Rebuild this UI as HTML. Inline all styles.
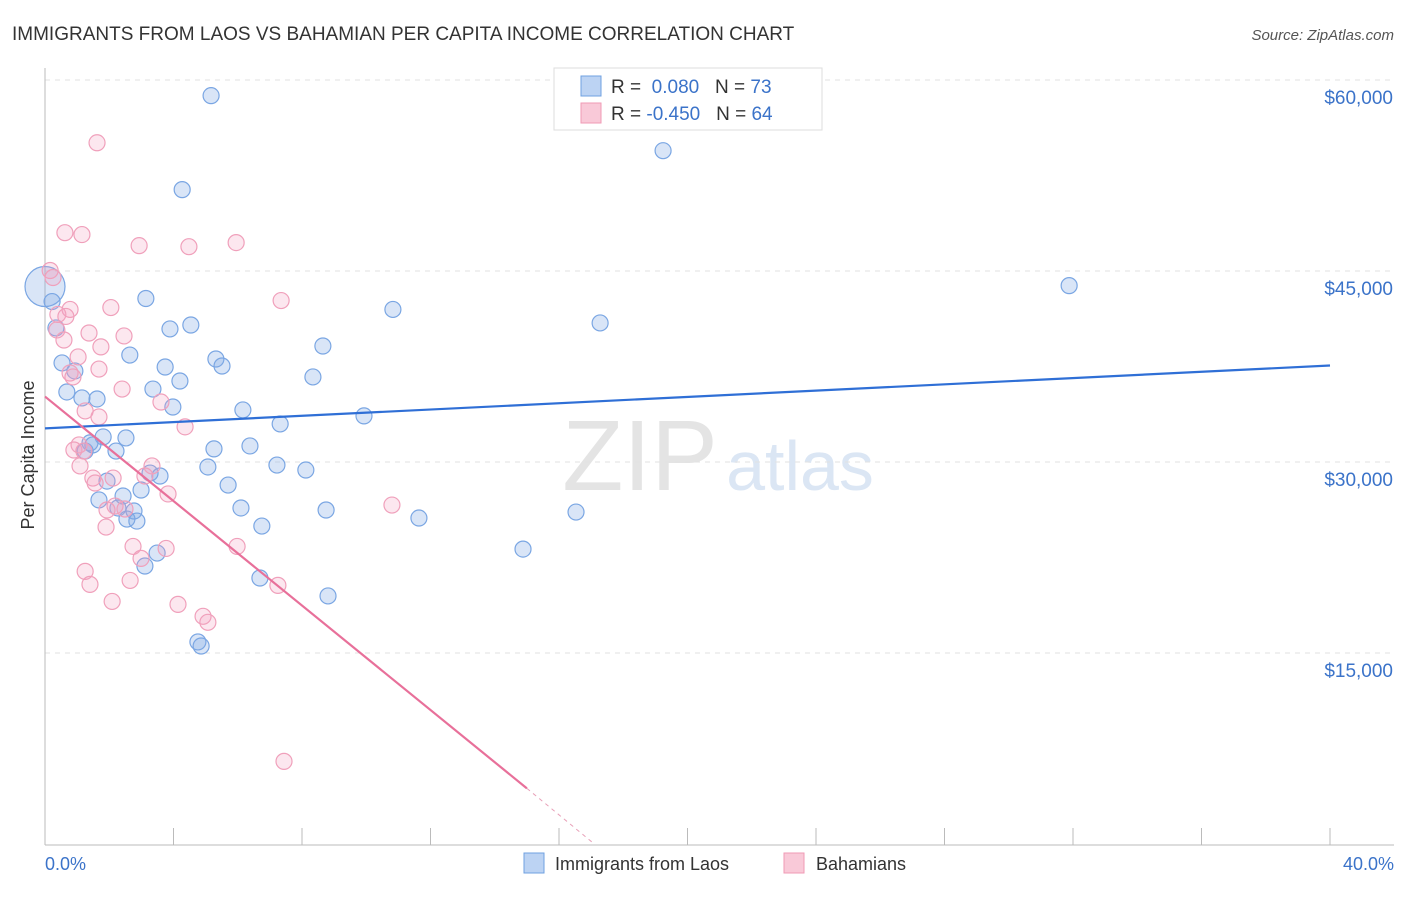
<!DOCTYPE html>
<html><head><meta charset="utf-8"><style>
body{margin:0;background:#fff;font-family:"Liberation Sans",sans-serif;}
svg text{font-family:"Liberation Sans",sans-serif;}
</style></head><body>
<svg id="chart" width="1406" height="892">
<text x="12" y="40" font-size="19" fill="#333">IMMIGRANTS FROM LAOS VS BAHAMIAN PER CAPITA INCOME CORRELATION CHART</text>
<text x="1394" y="40" font-size="15" fill="#555" font-style="italic" text-anchor="end">Source: ZipAtlas.com</text>
<text x="640" y="490" font-size="100" fill="#e4e4e4" font-family="Liberation Serif" text-anchor="middle">ZIP</text>
<text x="800" y="490" font-size="70" fill="#dbe6f4" text-anchor="middle">atlas</text>
<g id="grid"></g><g id="axes"></g><g id="pts"></g><g id="lines"></g>
<text x="34" y="455" font-size="18" fill="#333" transform="rotate(-90 34 455)" text-anchor="middle">Per Capita Income</text>
<text x="45" y="870" font-size="18" fill="#3b73c9">0.0%</text>
<text x="1394" y="870" font-size="18" fill="#3b73c9" text-anchor="end">40.0%</text>
<g>
<rect x="554" y="68" width="268" height="62" fill="#fff" stroke="#ddd"/>
<rect x="581" y="76" width="20" height="20" fill="#bcd3f3" stroke="#6fa0e0"/>
<rect x="581" y="103" width="20" height="20" fill="#f9c9d8" stroke="#f09ab5"/>
<text x="611" y="93" font-size="19" fill="#333">R = <tspan fill="#3b73c9">&#160;0.080</tspan>&#160;&#160;&#160;N = <tspan fill="#3b73c9">73</tspan></text>
<text x="611" y="120" font-size="19" fill="#333">R = <tspan fill="#3b73c9">-0.450</tspan>&#160;&#160;&#160;N = <tspan fill="#3b73c9">64</tspan></text>
</g>
<g>
<rect x="524" y="853" width="20" height="20" fill="#bcd3f3" stroke="#6fa0e0"/>
<text x="555" y="870" font-size="18" fill="#333">Immigrants from Laos</text>
<rect x="784" y="853" width="20" height="20" fill="#f9c9d8" stroke="#f09ab5"/>
<text x="816" y="870" font-size="18" fill="#333">Bahamians</text>
</g>
</svg>
<script>
const yTicks=[15000,30000,45000,60000];
const yTickLabels=["$15,000","$30,000","$45,000","$60,000"];
const xTicks=[0,4,8,12,16,20,24,28,32,36,40];
const blueX=[5.17,19.24,4.27,31.88,0.0,0.22,3.14,10.83,17.28,3.89,4.54,0.34,8.65,2.64,5.32,5.51,3.74,0.53,0.93,8.34,4.20,3.36,0.68,1.15,1.62,3.98,6.16,9.93,7.32,1.40,1.81,2.52,2.21,1.49,1.25,5.26,6.38,5.07,7.22,8.12,3.27,3.58,1.93,5.70,2.99,2.43,1.68,6.10,2.27,2.77,8.75,11.64,16.53,2.55,2.86,6.75,14.88,3.49,3.11,6.69,8.81,4.76,4.86];
const blueY=[58770,54450,51390,43850,43780,42600,42840,41980,40920,40450,40760,40530,39110,38400,38090,37540,37460,37780,37150,36680,36360,35730,35500,35030,34950,34320,34090,33620,32990,31500,31970,31890,30860,31340,30860,31030,31260,29610,29760,29370,29130,28900,28500,28190,27800,27330,27020,26390,26390,26150,26230,25600,26070,25520,25360,24970,23160,22850,21830,20890,19480,15870,15550];
const pinkX=[1.62,0.62,1.15,2.93,4.48,5.95,7.35,0.16,0.25,2.05,0.78,0.40,0.65,0.37,1.37,2.46,1.74,1.03,1.68,0.78,0.87,2.40,3.61,1.25,1.68,4.36,1.06,0.90,1.21,1.09,3.33,1.49,1.56,2.12,3.11,3.83,2.18,1.93,2.49,1.90,10.80,2.74,3.77,5.98,2.99,1.25,1.40,2.65,7.25,2.09,4.14,4.92,5.07,7.44,0.59];
const pinkY=[55070,48010,47860,46990,46910,47230,42680,45040,44490,42130,41980,41590,41430,40370,40130,39900,39040,38250,37300,36990,36680,35730,34710,34010,33540,32760,31340,30940,30860,29690,29690,28740,28350,28740,28900,27490,26540,26230,26310,24890,26620,23370,23210,23370,22430,21410,20390,20700,20310,19050,18820,17880,17410,6490,39580];
const X=v=>45+v/40*1285, Y=v=>462-(v-30000)*191/15000;
const NS="http://www.w3.org/2000/svg";
function mk(tag,attrs,parent){const e=document.createElementNS(NS,tag);for(const k in attrs)e.setAttribute(k,attrs[k]);document.getElementById(parent).appendChild(e);return e;}
yTicks.forEach((t,i)=>{
 const l=mk('line',{x1:45,x2:1394,y1:Y(t),y2:Y(t),stroke:'#e2e2e2','stroke-dasharray':'5,5'},'grid');
 
 
 const tx=mk('text',{x:1393,y:Y(t)+24,'font-size':19,fill:'#3b73c9','text-anchor':'end'},'grid');
 tx.textContent=yTickLabels[i];
 
 
});
const ya=mk('line',{x1:45,x2:45,y1:68,y2:845,stroke:'#bbb'},'axes');


const xa=mk('line',{x1:45,x2:1394,y1:845,y2:845,stroke:'#bbb'},'axes');


xTicks.forEach(t=>{
 const l=mk('line',{x1:X(t),x2:X(t),y1:828,y2:845,stroke:'#bbb'},'axes');
 
 
});
blueX.forEach((x,i)=>{
 const c=mk('circle',{cx:X(x),cy:Y(blueY[i]),r:i==4?20:8,fill:'rgba(130,170,230,0.3)',stroke:'#7aa6e3','stroke-width':1.2},'pts');
 
 
});
pinkX.forEach((x,i)=>{
 const c=mk('circle',{cx:X(x),cy:Y(pinkY[i]),r:8,fill:'rgba(245,160,190,0.25)',stroke:'#f0a0bb','stroke-width':1.2},'pts');
 
 
});
const bl=mk('line',{x1:X(0),y1:Y(32640),x2:X(40),y2:Y(37580),stroke:'#2f6fd6','stroke-width':2.2},'lines');


const pl=mk('line',{x1:X(0),y1:Y(35140),x2:X(15),y2:Y(4370),stroke:'#e8709a','stroke-width':2.2},'lines');


const pd=mk('line',{x1:X(15),y1:Y(4370),x2:X(17.1),y2:Y(0),stroke:'#e8a0b8','stroke-width':1,'stroke-dasharray':'4,4'},'lines');


</script>
</body></html>
